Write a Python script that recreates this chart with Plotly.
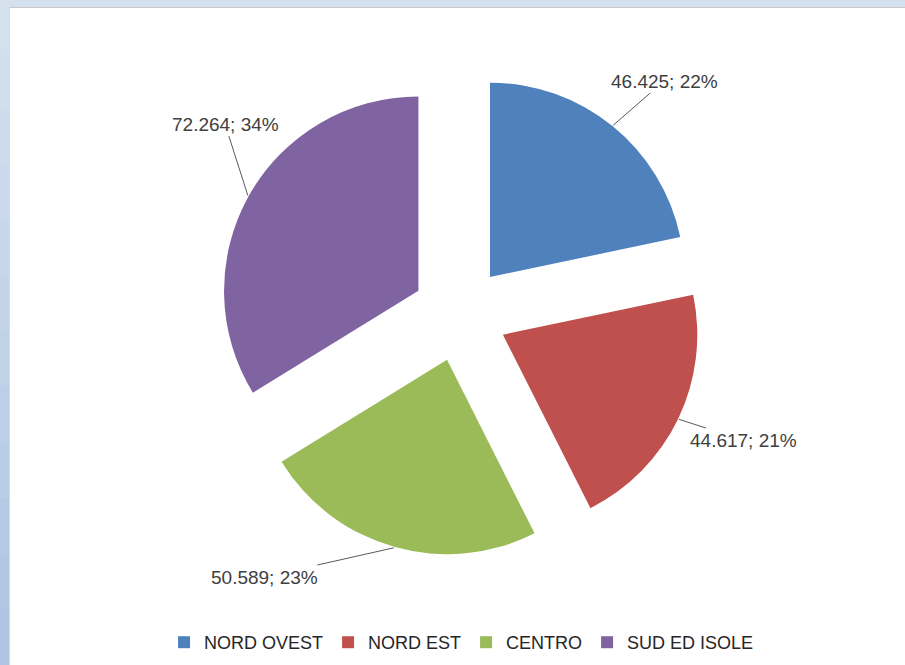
import math
import plotly.graph_objects as go

# ---- data ----
regions = ["NORD OVEST", "NORD EST", "CENTRO", "SUD ED ISOLE"]
values = [46425, 44617, 50589, 72264]          # shown as 46.425 etc. (Italian thousands sep)
percent_labels = [22, 21, 23, 34]               # as printed on the chart

# ---- styling / layout ----
colors = ["#4F81BD", "#C0504D", "#9BBB59", "#8064A2"]
W, H = 905, 665
FONT = "Liberation Sans, Arial, sans-serif"

cx, cy, half = 460, 314, 242         # pie centre / outer extent in pixels
pull = 0.245
dom_x = [(cx - half) / W, (cx + half) / W]
dom_y = [1 - (cy + half) / H, 1 - (cy - half) / H]

# label text centres (pixels)
label_pos = [(664, 81), (743, 440), (264, 577), (225, 124)]

fig = go.Figure()
fig.add_trace(go.Pie(
    labels=regions,
    values=values,
    sort=False,
    direction="clockwise",
    rotation=0,
    pull=[pull] * len(values),
    marker=dict(colors=colors, line=dict(width=0)),
    textinfo="none",
    hoverinfo="label+value+percent",
    domain=dict(x=dom_x, y=dom_y),
))

# leader-line annotations computed from the slice angles
total = sum(values)
cum = 0
annotations = []
for v, p, (tx, ty) in zip(values, percent_labels, label_pos):
    mid = (cum + v / 2) / total * 2 * math.pi
    cum += v
    tip_x = cx + (half + 1) * math.sin(mid)
    tip_y = cy - (half + 1) * math.cos(mid)
    txt = f"{v:,}".replace(",", ".") + f"; {p}%"
    annotations.append(dict(
        x=tip_x / W, y=1 - tip_y / H, xref="paper", yref="paper",
        ax=tx - tip_x, ay=ty - tip_y, axref="pixel", ayref="pixel",
        text=txt, showarrow=True, arrowhead=0, arrowwidth=1,
        arrowcolor="#595959", standoff=0, startstandoff=0,
        font=dict(family=FONT, size=19, color="#404040"),
        xanchor="center", yanchor="middle",
    ))

# frame: light-blue strips at the top and left (left one shaded top->bottom)
shapes = [
    dict(type="rect", xref="paper", yref="paper", x0=0, x1=1, y0=1 - 7 / H, y1=1,
         fillcolor="#D4E0EE", line=dict(width=0), layer="below"),
]
top_rgb = (212, 224, 238)
bot_rgb = (174, 198, 227)
n_bands = 12
for i in range(n_bands):
    t = i / (n_bands - 1)
    rgb = tuple(round(a + (b - a) * t) for a, b in zip(top_rgb, bot_rgb))
    col = "rgb(%d,%d,%d)" % rgb
    shapes.append(dict(type="rect", xref="paper", yref="paper",
                       x0=0, x1=9 / W,
                       y0=max(0, 1 - (i + 1) / n_bands - 2 / H), y1=1 - i / n_bands,
                       fillcolor=col, line=dict(width=1, color=col), layer="below"))
shapes.append(dict(type="line", xref="paper", yref="paper", x0=9 / W, x1=1,
                   y0=1 - 7.5 / H, y1=1 - 7.5 / H, line=dict(color="#C8C8C8", width=1)))
shapes.append(dict(type="line", xref="paper", yref="paper", x0=9.5 / W, x1=9.5 / W,
                   y0=0, y1=1 - 7.5 / H, line=dict(color="#DADADA", width=1)))

fig.update_layout(
    width=W, height=H, autosize=False,
    margin=dict(l=0, r=0, t=0, b=0),
    paper_bgcolor="white",
    showlegend=True,
    legend=dict(orientation="h", x=0.51, xanchor="center", y=0.006, yanchor="bottom",
                font=dict(family=FONT, size=18, color="#262626"),
                itemwidth=30, traceorder="normal"),
    annotations=annotations,
    shapes=shapes,
)

fig.write_html("out.html", config={"displayModeBar": False},
               post_script="document.body.style.margin='0px';")
